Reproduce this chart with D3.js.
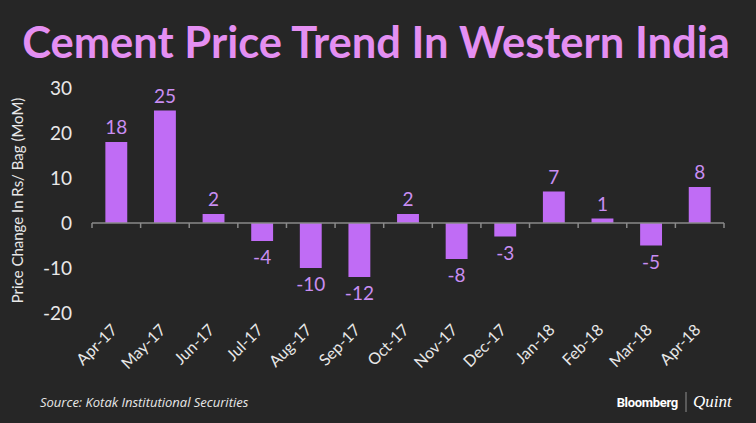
<!DOCTYPE html>
<html>
<head>
<meta charset="utf-8">
<script src="https://cdn.jsdelivr.net/npm/d3@7"></script>
<style>
  body { margin: 0; background: #262626; }
  svg { display: block; }
</style>
</head>
<body>
<div id="chart"></div>
<script>
// data
var months = ["Apr-17", "May-17", "Jun-17", "Jul-17", "Aug-17", "Sep-17", "Oct-17",
              "Nov-17", "Dec-17", "Jan-18", "Feb-18", "Mar-18", "Apr-18"];
var change = [18, 25, 2, -4, -10, -12, 2, -8, -3, 7, 1, -5, 8];
var yTicks = [-20, -10, 0, 10, 20, 30];

var width = 756, height = 423;
var margin = { top: 88, left: 92, bottom: 110, right: 32 };

var svg = d3.select("#chart").append("svg")
    .attr("width", width)
    .attr("height", height);

svg.append("rect").attr("width", width).attr("height", height).attr("fill", "#262626");

svg.append("text")
    .attr("x", width / 2 - 2)
    .attr("y", 58)
    .attr("text-anchor", "middle")
    .attr("fill", "#e48ff2")
    .style("font-family", "Lato, 'Open Sans', sans-serif")
    .style("font-weight", "bold")
    .style("font-size", "43.5px")
    .text("Cement Price Trend In Western India");

var x = d3.scaleBand()
    .domain(months)
    .range([margin.left, width - margin.right])
    .paddingInner(0.55)
    .paddingOuter(0.275);

var y = d3.scaleLinear()
    .domain([-20, 30])
    .range([313, 88]);

// y axis labels
svg.selectAll(".ylab")
    .data(yTicks)
  .enter().append("text")
    .attr("x", 72)
    .attr("y", function(d) { return y(d); })
    .attr("dy", "0.35em")
    .attr("text-anchor", "end")
    .attr("fill", "#e8e8e8")
    .style("font-family", "Lato, sans-serif")
    .style("font-size", "19px")
    .text(function(d) { return d; });

svg.append("text")
    .attr("transform", "translate(23," + y(5) + ") rotate(-90)")
    .attr("text-anchor", "middle")
    .attr("fill", "#e8e8e8")
    .style("font-family", "Lato, sans-serif")
    .style("font-size", "15px")
    .text("Price Change In Rs/ Bag (MoM)");

// bars
svg.selectAll(".bar")
    .data(change)
  .enter().append("rect")
    .attr("x", function(d, i) { return x(months[i]); })
    .attr("width", x.bandwidth())
    .attr("y", function(d) { return y(Math.max(0, d)); })
    .attr("height", function(d) { return Math.abs(y(d) - y(0)); })
    .attr("fill", "#c06cf5");

// zero axis with ticks between bars
var x0 = margin.left, x1 = width - margin.right;
svg.append("line")
    .attr("x1", x0).attr("x2", x1)
    .attr("y1", y(0)).attr("y2", y(0))
    .attr("stroke", "#8a8a8a")
    .attr("stroke-width", 1.5);

svg.selectAll(".tick")
    .data(d3.range(months.length + 1))
  .enter().append("line")
    .attr("x1", function(i) { return x0 + i * (x1 - x0) / months.length; })
    .attr("x2", function(i) { return x0 + i * (x1 - x0) / months.length; })
    .attr("y1", y(0))
    .attr("y2", y(0) + 5)
    .attr("stroke", "#8a8a8a")
    .attr("stroke-width", 1.5);

// value labels
svg.selectAll(".val")
    .data(change)
  .enter().append("text")
    .attr("x", function(d, i) { return x(months[i]) + x.bandwidth() / 2; })
    .attr("y", function(d) { return d >= 0 ? y(d) - 8 : y(d) + 23; })
    .attr("text-anchor", "middle")
    .attr("fill", "#c98ef2")
    .style("font-family", "Lato, sans-serif")
    .style("font-size", "19px")
    .text(function(d) { return d; });

// x labels
svg.selectAll(".xlab")
    .data(months)
  .enter().append("text")
    .attr("transform", function(d) {
      return "translate(" + (x(d) + x.bandwidth() / 2 + 2) + ",331) rotate(-45)";
    })
    .attr("text-anchor", "end")
    .attr("fill", "#e8e8e8")
    .style("font-family", "Lato, sans-serif")
    .style("font-size", "16px")
    .text(function(d) { return d; });

// footer
svg.append("text")
    .attr("x", 40)
    .attr("y", 407)
    .attr("fill", "#e8e8e8")
    .style("font-family", "'Liberation Sans Narrow', 'Open Sans', sans-serif")
    .style("font-style", "italic")
    .style("font-size", "13px")
    .text("Source: Kotak Institutional Securities");

svg.append("text")
    .attr("x", 678)
    .attr("y", 407)
    .attr("text-anchor", "end")
    .attr("fill", "#ffffff")
    .style("font-family", "Roboto, sans-serif")
    .style("font-weight", "bold")
    .style("font-size", "13px")
    .style("letter-spacing", "-0.3px")
    .text("Bloomberg");

svg.append("line")
    .attr("x1", 686).attr("x2", 686)
    .attr("y1", 392).attr("y2", 412)
    .attr("stroke", "#aaaaaa")
    .attr("stroke-width", 0.8);

svg.append("text")
    .attr("x", 693)
    .attr("y", 407)
    .attr("fill", "#ffffff")
    .style("font-family", "'Liberation Serif', serif")
    .style("font-style", "italic")
    .style("font-size", "17px")
    .text("Quint");
</script>
</body>
</html>
